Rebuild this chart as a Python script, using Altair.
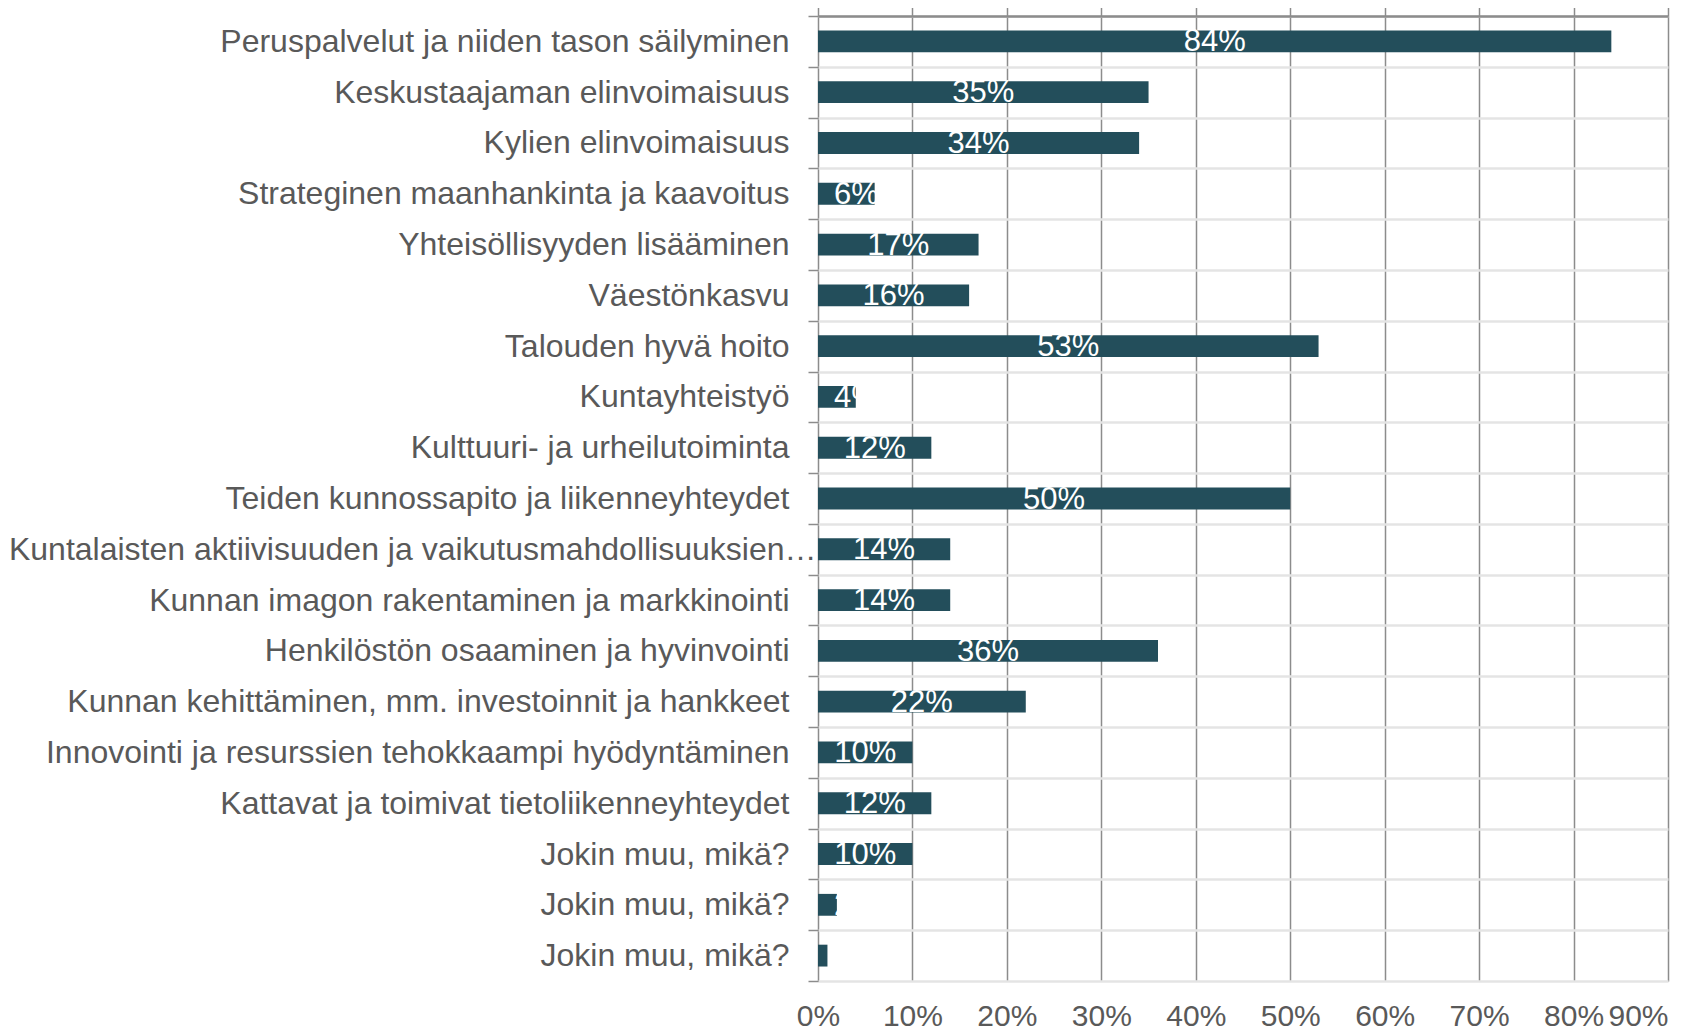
import json
import altair as alt
import pandas as pd

categories = [
    "Peruspalvelut ja niiden tason säilyminen",
    "Keskustaajaman elinvoimaisuus",
    "Kylien elinvoimaisuus",
    "Strateginen maanhankinta ja kaavoitus",
    "Yhteisöllisyyden lisääminen",
    "Väestönkasvu",
    "Talouden hyvä hoito",
    "Kuntayhteistyö",
    "Kulttuuri- ja urheilutoiminta",
    "Teiden kunnossapito ja liikenneyhteydet",
    "Kuntalaisten aktiivisuuden ja vaikutusmahdollisuuksien lisääminen",
    "Kunnan imagon rakentaminen ja markkinointi",
    "Henkilöstön osaaminen ja hyvinvointi",
    "Kunnan kehittäminen, mm. investoinnit ja hankkeet",
    "Innovointi ja resurssien tehokkaampi hyödyntäminen",
    "Kattavat ja toimivat tietoliikenneyhteydet",
    "Jokin muu, mikä?",
    "Jokin muu, mikä?",
    "Jokin muu, mikä?",
]
values = [0.84, 0.35, 0.34, 0.06, 0.17, 0.16, 0.53, 0.04, 0.12, 0.50,
          0.14, 0.14, 0.36, 0.22, 0.10, 0.12, 0.10, 0.02, 0.01]
tick_values = [0.0, 0.1, 0.2, 0.3, 0.4, 0.5, 0.6, 0.7, 0.8, 0.9]

df = pd.DataFrame({"idx": list(range(len(categories))), "value": values})
label_expr = json.dumps(categories, ensure_ascii=False) + "[datum.value]"

FONT = "Liberation Sans"
TEXT = "#595959"
GRID = "#8c8c8c"
BAR = "#234E5B"
W = 850
XMAX = 0.9

y_enc = alt.Y(
    "idx:O",
    sort=None,
    title=None,
    scale=alt.Scale(paddingInner=0, paddingOuter=0),
    axis=alt.Axis(
        labelExpr=label_expr,
        labelFont=FONT,
        labelFontSize=32,
        labelColor=TEXT,
        labelLimit=815,
        labelPadding=alt.expr("datum.value == 10 ? -8 : 19"),
        tickBand="extent",
        ticks=True,
        tickSize=10,
        tickColor=GRID,
        tickWidth=1.5,
        grid=True,
        gridColor="#e4e4e4",
        gridWidth=2.5,
        domain=False,
    ),
)

bars = alt.Chart(df).mark_bar(color=BAR, height={"band": 0.43}).encode(
    x=alt.X(
        "value:Q",
        title=None,
        scale=alt.Scale(domain=[0, XMAX], nice=False),
        axis=alt.Axis(
            orient="bottom",
            values=tick_values,
            format=".0%",
            labelFont=FONT,
            labelFontSize=30,
            labelColor=TEXT,
            labelPadding=20,
            labelAlign=alt.expr("datum.value >= 0.89 ? 'right' : 'center'"),
            ticks=False,
            domain=False,
            grid=True,
            gridColor=GRID,
            gridWidth=1.5,
        ),
    ),
    y=y_enc,
)

labels = alt.Chart(df).transform_calculate(
    lbl="format(datum.value, '.0%')",
).transform_calculate(
    tw="(length(datum.lbl) == 2 ? 1.445 : 2.001) * 31",
).transform_calculate(
    xl=f"max(datum.value * {W} / {XMAX} / 2 - datum.tw / 2, 16) * {XMAX} / {W}",
).mark_text(
    color="white", font=FONT, fontSize=31, align="left", baseline="middle", dy=1
).encode(
    x=alt.X(
        "xl:Q",
        title=None,
        scale=alt.Scale(domain=[0, XMAX], nice=False),
        axis=alt.Axis(
            orient="top",
            values=tick_values,
            labels=False,
            ticks=True,
            tickSize=9,
            tickColor=GRID,
            tickWidth=1.5,
            domain=True,
            domainColor=GRID,
            domainWidth=2.5,
            grid=False,
        ),
    ),
    y=y_enc,
    text="lbl:N",
)

chart = (
    alt.layer(bars, labels)
    .resolve_axis(x="independent")
    .properties(
        width=W,
        height=965,
        autosize=alt.AutoSizeParams(type="none"),
        padding={"left": 810, "top": 8, "right": 30, "bottom": 50},
    )
    .configure_view(stroke=None)
    .configure(background="white")
)

chart.save("out.html", embed_options={"renderer": "svg", "actions": False})
